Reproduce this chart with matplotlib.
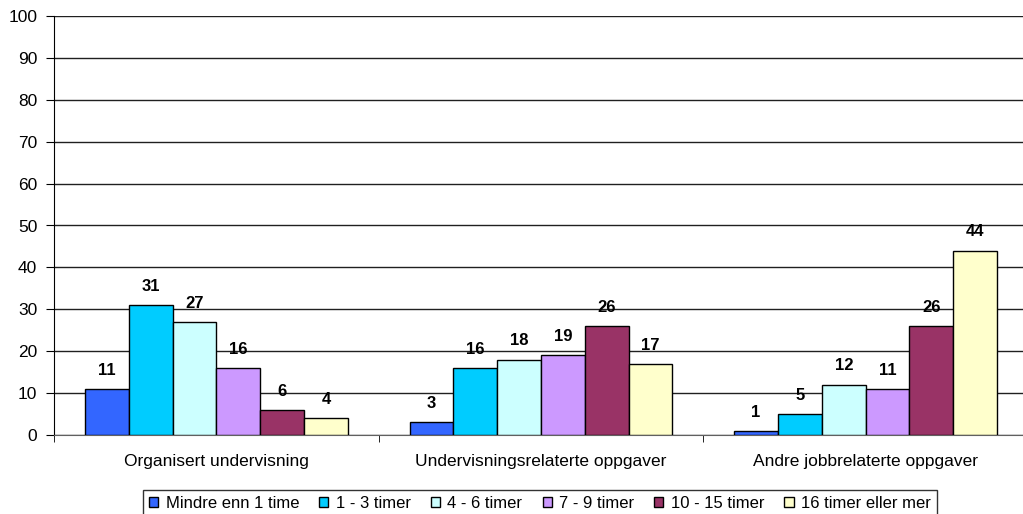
import matplotlib.pyplot as plt
import numpy as np

plt.rcParams['font.family'] = ['Liberation Sans', 'DejaVu Sans']

categories = ['Organisert undervisning', 'Undervisningsrelaterte oppgaver',
              'Andre jobbrelaterte oppgaver']
series_names = ['Mindre enn 1 time', '1 - 3 timer', '4 - 6 timer',
                '7 - 9 timer', '10 - 15 timer', '16 timer eller mer']
values = [
    [11, 3, 1],
    [31, 16, 5],
    [27, 18, 12],
    [16, 19, 11],
    [6, 26, 26],
    [4, 17, 44],
]
colors = ['#3366FF', '#00CCFF', '#CCFFFF', '#CC99FF', '#993366', '#FFFFCC']

fig = plt.figure(figsize=(10.23, 5.14), dpi=100)
# plot area runs slightly past the right edge of the image, as in the original
ax = fig.add_axes([54/1023, 1 - 435/514, (1028 - 54)/1023, (435 - 16)/514])

x = np.arange(len(categories))
bw = 0.135
for i, (name, vals, c) in enumerate(zip(series_names, values, colors)):
    pos = x + (i - 2.5) * bw
    bars = ax.bar(pos, vals, bw, color=c, edgecolor='black', linewidth=1,
                  label=name, zorder=3)
    for b, v in zip(bars, vals):
        ax.annotate(str(v), (b.get_x() + b.get_width() / 2, v),
                    xytext=(0, 13.5), textcoords='offset points',
                    ha='center', va='center', fontsize=12, fontweight='bold')

ax.set_ylim(0, 100)
ax.set_yticks(range(0, 101, 10))
ax.set_xlim(-0.5, 2.5)
ax.set_xticks(x)
ax.set_xticklabels(categories, fontsize=12.5)
ax.tick_params(axis='x', length=0, pad=14)
ax.set_xticks([-0.5, 0.5, 1.5, 2.5], minor=True)
ax.tick_params(axis='x', which='minor', length=5, direction='out')
ax.tick_params(axis='y', labelsize=12.5, length=6, direction='out', pad=6)
ax.grid(axis='y', color='#202020', linewidth=1, zorder=0)
ax.spines['bottom'].set_color('#606060')
for s in ['top', 'right']:
    ax.spines[s].set_visible(False)

fig.legend(loc='center', bbox_to_anchor=(540/1023, 1 - 503/514), ncol=6,
           fontsize=12, frameon=True, fancybox=False, edgecolor='black',
           handlelength=0.55, handleheight=0.55, handletextpad=0.45,
           columnspacing=1.2, borderpad=0.35, borderaxespad=0)

fig.savefig('out.png', dpi=100)
